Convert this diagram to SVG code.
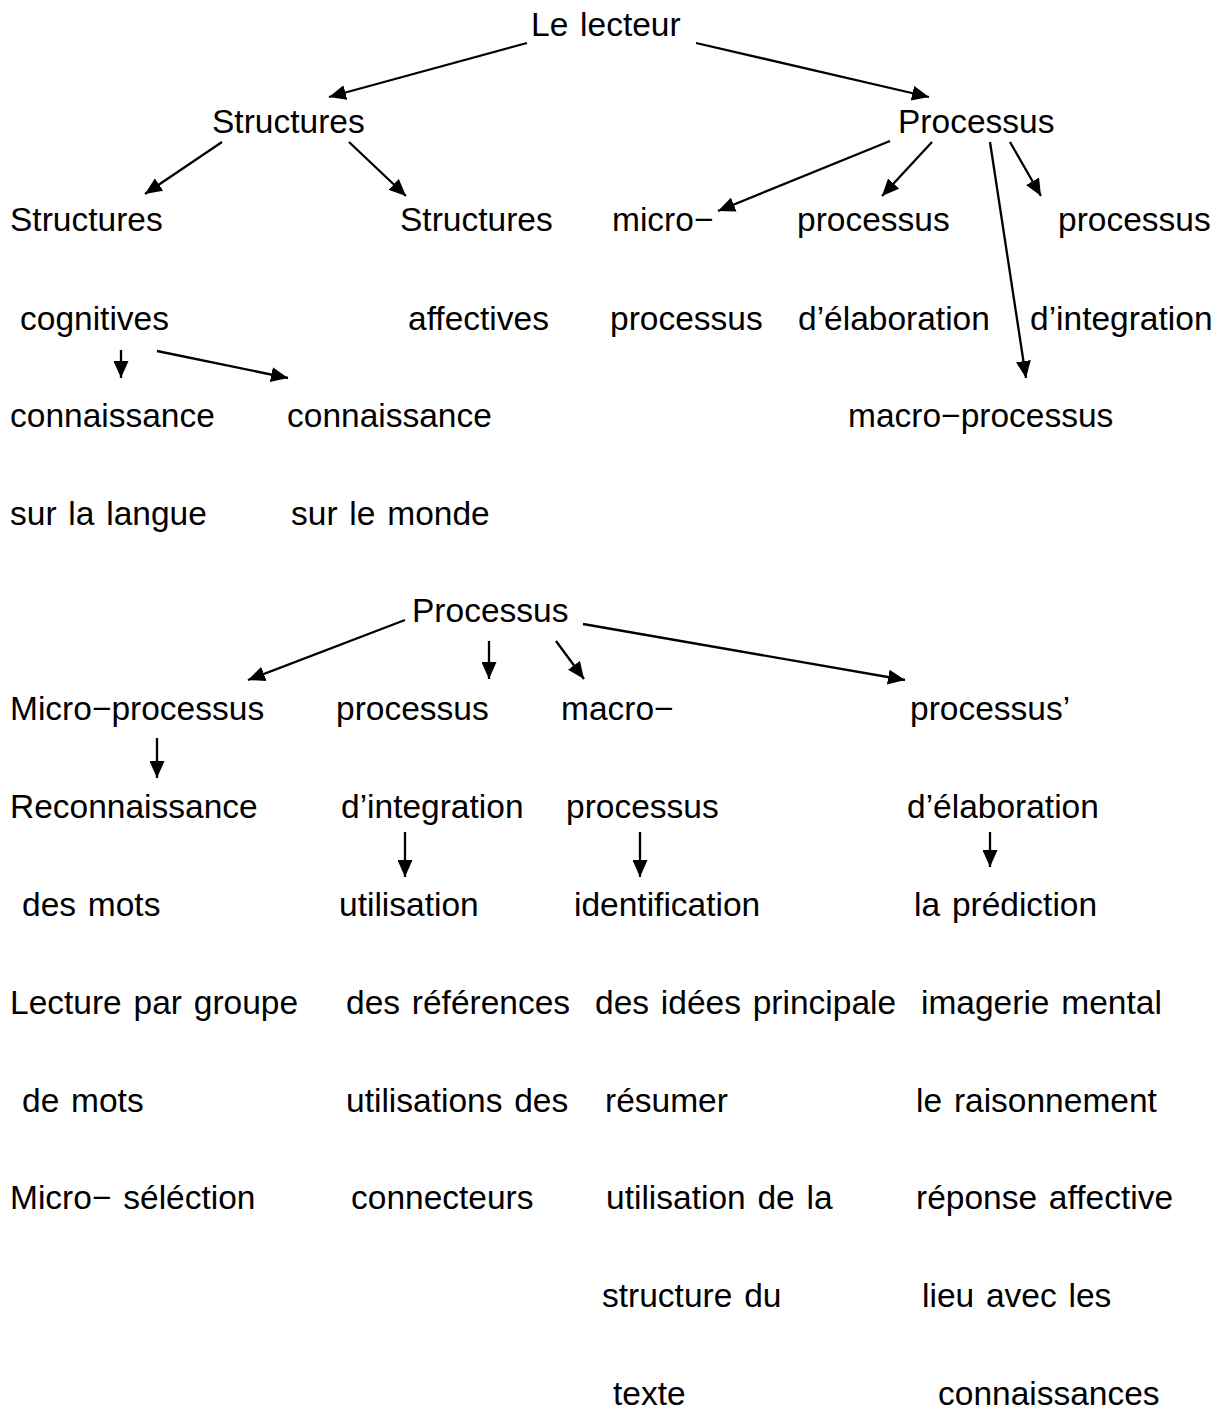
<svg xmlns="http://www.w3.org/2000/svg" width="1229" height="1410" viewBox="0 0 1229 1410">
<style>
text{font-family:"Liberation Sans",Arial,sans-serif;font-size:33.5px;word-spacing:2.5px;fill:#000}
.c line{stroke:#000;stroke-width:2.3;marker-end:url(#ah)}
</style>
<defs>
<marker id="ah" viewBox="0 0 17 15" refX="17" refY="7.5" markerWidth="17" markerHeight="15" orient="auto" markerUnits="userSpaceOnUse"><path d="M0,0 L17,7.5 L0,15 z" fill="#000"/></marker>
</defs>
<rect width="1229" height="1410" fill="#fff"/>
<g id="n-lecteur"><text x="531" y="36">Le lecteur</text></g>
<g id="n-structures"><text x="212" y="133">Structures</text></g>
<g id="n-processus1"><text x="898" y="133">Processus</text></g>
<g id="n-struct-cog"><text x="10" y="231">Structures</text><text x="20" y="330">cognitives</text></g>
<g id="n-struct-aff"><text x="400" y="231">Structures</text><text x="408" y="330">affectives</text></g>
<g id="n-micro1"><text x="612" y="231">micro−</text><text x="610" y="330">processus</text></g>
<g id="n-elab1"><text x="797" y="231">processus</text><text x="798" y="330">d’élaboration</text></g>
<g id="n-integ1"><text x="1058" y="231">processus</text><text x="1030" y="330">d’integration</text></g>
<g id="n-macro1"><text x="848" y="427">macro−processus</text></g>
<g id="n-conn-langue"><text x="10" y="427">connaissance</text><text x="10" y="525">sur la langue</text></g>
<g id="n-conn-monde"><text x="287" y="427">connaissance</text><text x="291" y="525">sur le monde</text></g>
<g id="n-processus2"><text x="412" y="622">Processus</text></g>
<g id="n-micro2"><text x="10" y="720">Micro−processus</text></g>
<g id="n-micro2-list"><text x="10" y="818">Reconnaissance</text><text x="22" y="916">des mots</text><text x="10" y="1014">Lecture par groupe</text><text x="22" y="1112">de mots</text><text x="10" y="1209">Micro−  séléction</text></g>
<g id="n-integ2"><text x="336" y="720">processus</text><text x="341" y="818">d’integration</text></g>
<g id="n-integ2-list"><text x="339" y="916">utilisation</text><text x="346" y="1014">des références</text><text x="346" y="1112">utilisations des</text><text x="351" y="1209">connecteurs</text></g>
<g id="n-macro2"><text x="561" y="720">macro−</text><text x="566" y="818">processus</text></g>
<g id="n-macro2-list"><text x="574" y="916">identification</text><text x="595" y="1014">des idées principale</text><text x="605" y="1112">résumer</text><text x="606" y="1209">utilisation de la</text><text x="602" y="1307">structure du</text><text x="613" y="1405">texte</text></g>
<g id="n-elab2"><text x="910" y="720">processus’</text><text x="907" y="818">d’élaboration</text></g>
<g id="n-elab2-list"><text x="914" y="916">la prédiction</text><text x="921" y="1014">imagerie mental</text><text x="916" y="1112">le raisonnement</text><text x="916" y="1209">réponse affective</text><text x="922" y="1307">lieu avec les</text><text x="938" y="1405">connaissances</text></g>
<g id="connectors" class="c">
<line x1="527" y1="43" x2="329" y2="97"/>
<line x1="696" y1="43" x2="929" y2="97"/>
<line x1="222" y1="142" x2="145" y2="194"/>
<line x1="349" y1="142" x2="406" y2="196"/>
<line x1="890" y1="141" x2="718" y2="211"/>
<line x1="932" y1="142" x2="882" y2="196"/>
<line x1="990" y1="142" x2="1026" y2="378"/>
<line x1="1010" y1="142" x2="1041" y2="196"/>
<line x1="121" y1="350" x2="121" y2="378"/>
<line x1="157" y1="351" x2="288" y2="378"/>
<line x1="405" y1="620" x2="248" y2="680"/>
<line x1="489" y1="641" x2="489" y2="679"/>
<line x1="556" y1="641" x2="584" y2="679"/>
<line x1="583" y1="624" x2="905" y2="680"/>
<line x1="157" y1="738" x2="157" y2="778"/>
<line x1="405" y1="832" x2="405" y2="877"/>
<line x1="640" y1="832" x2="640" y2="877"/>
<line x1="990" y1="832" x2="990" y2="867"/>
</g>
</svg>
